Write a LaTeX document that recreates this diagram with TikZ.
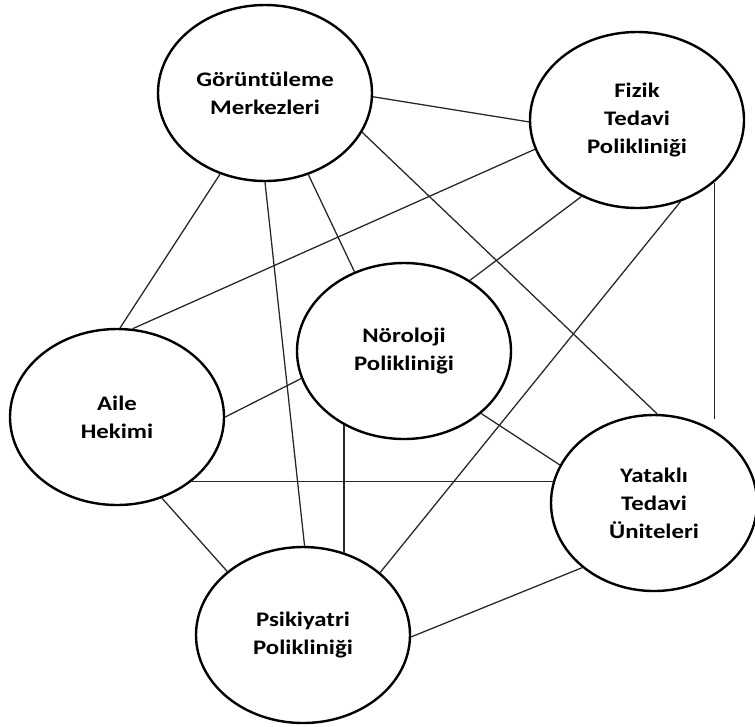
\documentclass[tikz,border=0pt]{standalone}
\usepackage{fontspec}
\setmainfont{Carlito}[FakeStretch=1.2]
\usepackage{tikz}
\usetikzlibrary{shapes.geometric}

\tikzset{
  unit/.style={ellipse, draw, line width=1.8pt, fill=white, inner sep=0pt,
    minimum width=160.5pt, minimum height=132pt, align=center,
    font=\bfseries\fontsize{15.5}{21}\selectfont},
  link/.style={line width=0.95pt, black!85}
}

\begin{document}
\begin{tikzpicture}[x=0.75pt, y=-0.75pt]
        \fill[white] (0,0) rectangle (755,726);
        \useasboundingbox (0,0) rectangle (755,726);
        % units
        \node[unit] (G) at (265,93) {Görüntüleme\\Merkezleri};
        \node[unit] (F) at (637,120) {Fizik\\Tedavi\\Polikliniği};
        \node[unit] (N) at (404,351) {Nöroloji\\Polikliniği};
        \node[unit] (A) at (117,417) {Aile\\Hekimi};
        \node[unit, minimum width=154.5pt] (Y) at (654,503) {Yataklı\\Tedavi\\Üniteleri};
        \node[unit] (P) at (303,635) {Psikiyatri\\Polikliniği};
        % slanted links
        \foreach \a/\b in {G.-2/F.181, G.-22/Y.88, G.-62/N.122, G.-90/P.89, G.-119/A.88,
                           F.196/A.80, F.-126/N.47, F.-62/P.39,
                           N.195/A.0, N.-39/Y.158, A.-61/P.140, Y.-138/P.-1} {
          \draw[link] (\a) -- (\b);
        }
        % straight links
        \draw[link] (F.-39) -- ([yshift=-4pt]F.-39 |- Y.north);
        \draw[link] (N.-129) -- (N.-129 |- P.63);
        \draw[link] (A.-41) -- (A.-41 -| Y.168);
      \end{tikzpicture}
\end{document}
